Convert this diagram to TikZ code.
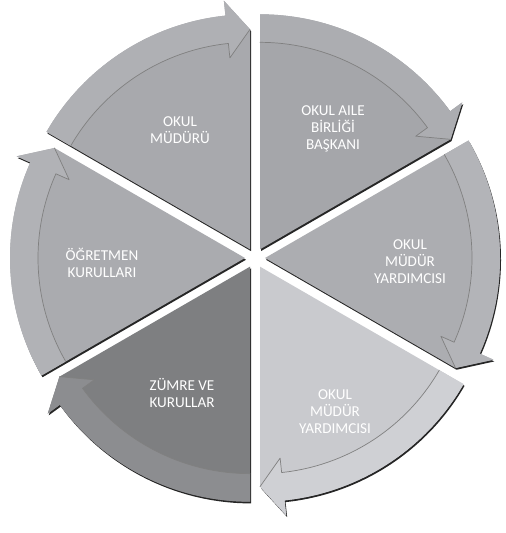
\documentclass[tikz,border=0pt]{standalone}
\usepackage{fontspec}
\setmainfont{Carlito}
\definecolor{segA}{HTML}{A8A9AD}
\definecolor{segB}{HTML}{A5A6AA}
\definecolor{segC}{HTML}{ACADB1}
\definecolor{segD}{HTML}{C9CACE}
\definecolor{segE}{HTML}{7E7F81}
\definecolor{segF}{HTML}{AAABAF}
\definecolor{bandA}{HTML}{AFB0B4}
\definecolor{bandB}{HTML}{ACADB1}
\definecolor{bandC}{HTML}{B3B4B8}
\definecolor{bandD}{HTML}{CFD0D4}
\definecolor{bandE}{HTML}{8C8D90}
\definecolor{bandF}{HTML}{B1B2B6}
\tikzset{
  segtext/.style={text=white, align=center, font=\fontsize{8.6}{9.6}\selectfont},
  segline/.style={draw=black!50, line width=0.4pt, line join=round}
}
\begin{document}
\begin{tikzpicture}[line join=round, line cap=round]
\useasboundingbox (0,0) rectangle (10.1,10.66);
% six segments, each one an arrow running clockwise
\foreach \a/\col/\band in {150/segA/bandA, 90/segB/bandB, 30/segC/bandC, -30/segD/bandD, -90/segE/bandE, -150/segF/bandF}{
  \pgfmathsetmacro\b{\a-60}
  \pgfmathsetmacro\h{\a-54}
  \begin{scope}[shift={(5.1,5.5)}, shift={({\a-30}:0.2)}]
    \fill[black!85, shift={(0.02,-0.035)}] (0,0) -- ({\a}:4.7) arc[start angle=\a, end angle=\h, radius=4.7]
      -- ({\h}:5.0) -- ({\b}:4.4) -- cycle;
    \fill[\col] (0,0) -- ({\a}:4.7) arc[start angle=\a, end angle=\h, radius=4.7]
      -- ({\h}:5.0) -- ({\b}:4.4) -- cycle;
    \fill[\band] ({\a}:4.14) -- ({\a}:4.7) arc[start angle=\a, end angle=\h, radius=4.7]
      -- ({\h}:5.0) -- ({\b}:4.4) -- ({\h}:3.85) -- ({\h}:4.14)
      arc[start angle=\h, end angle=\a, radius=4.14] -- cycle;
    \draw[segline] ({\a}:4.14) arc[start angle=\a, end angle=\h, radius=4.14]
      -- ({\h}:3.85) -- ({\b}:4.4);
  \end{scope}
}
\node[segtext] (mudur) at (3.6,8.06) {OKUL\\MÜDÜRÜ};
\node[segtext] (aile) at (6.66,8.08) {OKUL AILE\\BİRLİĞİ\\BAŞKANI};
\node[segtext] (yard1) at (8.2,5.42) {OKUL\\MÜDÜR\\YARDIMCISI};
\node[segtext] (yard2) at (6.7,2.42) {OKUL\\MÜDÜR\\YARDIMCISI};
\node[segtext] (zumre) at (3.64,2.8) {ZÜMRE VE\\KURULLAR};
\node[segtext] (ogretmen) at (2.04,5.4) {ÖĞRETMEN\\KURULLARI};
\end{tikzpicture}
\end{document}
